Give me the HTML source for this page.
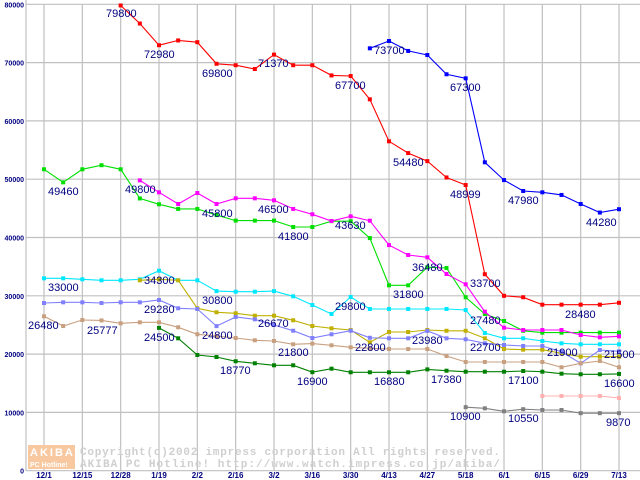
<!DOCTYPE html>
<html><head><meta charset="utf-8"><style>
html,body{margin:0;padding:0;background:#fff;}
svg{display:block;font-family:"Liberation Sans",Arial,sans-serif;}
</style></head><body>
<svg id="chart" width="640" height="480" viewBox="0 0 640 480" xmlns="http://www.w3.org/2000/svg">
<g id="grid"></g>
<g id="wm">
  <rect x="28" y="445" width="47" height="24" fill="#f8c8a0"/>
  <text x="30" y="456" font-size="11" font-weight="bold" fill="#fff" letter-spacing="2">AKIBA</text>
  <text x="30" y="467" font-size="7" font-weight="bold" fill="#fff">PC Hotline!</text>
  <text x="80" y="455" font-family="Liberation Mono,monospace" font-size="11" font-weight="bold" fill="#cfcfcf" textLength="420" lengthAdjust="spacing">Copyright(c)2002 impress corporation All rights reserved.</text>
  <text x="80" y="467" font-family="Liberation Mono,monospace" font-size="11" font-weight="bold" fill="#cfcfcf" textLength="420" lengthAdjust="spacing">AKIBA PC Hotline!  http://www.watch.impress.co.jp/akiba/</text>
</g>
<g id="series"></g>
<g id="labels"></g>
<g id="axes"></g>
</svg>
<script>
const categories = ["12/1","12/15","12/28","1/19","2/2","2/16","3/2","3/16","3/30","4/13","4/27","5/18","6/1","6/15","6/29","7/13"];
const yTicks = [0,10000,20000,30000,40000,50000,60000,70000,80000];
const N = null;
const redVals = [N,N,N,N,79800,76700,72980,73800,73500,69800,69550,68900,71370,69550,69550,67800,67700,63700,56500,54480,53100,50300,48999,33700,30000,29750,28480,28480,28480,28480,28800];
const blueVals = [N,N,N,N,N,N,N,N,N,N,N,N,N,N,N,N,N,72450,73700,72000,71300,68000,67300,52900,49850,47980,47750,47300,45750,44280,44850];
const greenVals = [51700,49460,51700,52400,51700,46700,45700,44900,44900,43850,42900,42900,42900,41800,41800,42800,42800,39900,31800,31800,34900,34770,29750,26880,25680,24000,23680,23680,23680,23680,23680];
const magentaVals = [N,N,N,N,N,49800,47750,45750,47630,45750,46720,46720,46380,44900,43980,42830,43630,42880,38700,37000,36600,33740,31970,27280,24530,24130,24130,24130,23280,22880,23050];
const cyanVals = [33000,33000,32830,32660,32660,32830,34300,32660,32660,30800,30700,30700,30800,29910,28420,26880,29800,27740,27740,27740,27740,27740,27560,23620,22710,22710,22250,21850,21680,21680,21680];
const oliveVals = [N,N,N,N,N,32660,32830,32660,27860,27170,27000,26590,26590,25800,24820,24420,24130,22020,23790,23790,24130,24000,24000,22710,20870,20760,20760,20130,19560,19560,19560];
const lavenderVals = [28760,28880,28880,28760,28880,28880,29280,27860,27740,24800,26370,25970,24990,24010,22760,23400,24010,22800,22710,22710,23980,22710,22540,21850,21560,21390,21390,20410,18420,20700,20480];
const tanVals = [26480,24820,25850,25777,25280,25450,25450,24600,23400,23100,22760,22370,22250,21680,21800,21510,21170,21000,20870,20870,20870,19670,18650,18650,18650,18650,18650,17740,18420,18820,17740];
const dkgreenVals = [N,N,N,N,N,N,24500,22710,19850,19500,18770,18420,18080,18080,16900,17500,16880,16880,16880,16880,17380,17150,16980,16980,16980,17100,16980,16640,16540,16540,16600];
const pinkVals = [N,N,N,N,N,N,N,N,N,N,N,N,N,N,N,N,N,N,N,N,N,N,N,N,N,N,12810,12810,12810,12810,12470];
const grayVals = [N,N,N,N,N,N,N,N,N,N,N,N,N,N,N,N,N,N,N,N,N,N,10900,10700,10190,10550,10410,10410,9870,9870,9870];
const labelTexts = ["79800","72980","69800","71370","49460","49800","45800","46500","41800","43630","67700","73700","67300","54480","48999","47980","44280","33000","34300","29280","30800","26480","25777","24500","24800","26670","18770","21800","16900","29800","22800","31800","36480","23980","16880","17380","33700","27480","22700","17100","28480","21900","21500","16600","10900","10550","9870"];
const labelPos = [[106,13],[144,54],[202,73],[258,63],[48,191],[125,189],[202,213],[258,209],[278,236],[335,225],[335,85],[374,50],[450,87],[393,162],[450,194],[508,200],[586,222],[48,287],[144,280],[144,309],[202,300],[28,325],[87,330],[144,337],[202,335],[258,323],[220,370],[278,352],[297,381],[335,306],[355,347],[393,294],[412,267],[412,340],[374,381],[431,379],[470,283],[470,320],[470,347],[508,380],[565,314],[547,352],[604,354],[604,383],[450,416],[508,418],[606,422]];

const NS="http://www.w3.org/2000/svg";
const X0=44, DX=19.167, Y0=470.7, KY=0.005830;
function xPos(i){return X0+i*DX;}
function yPos(v){return Y0-v*KY;}
function mk(tag,attrs,parent){const e=document.createElementNS(NS,tag);for(const k in attrs)e.setAttribute(k,attrs[k]);parent.appendChild(e);return e;}
const grid=document.getElementById('grid'), axes=document.getElementById('axes'), ser=document.getElementById('series'), lab=document.getElementById('labels');

yTicks.forEach(t=>{
  const y=yPos(t);
  const l=mk('line',{x1:26,x2:640,y1:y,y2:y,stroke:'#c0c0c0','stroke-width':1.2},grid);
  
  
  const tx=mk('text',{x:24,y:y+3,'text-anchor':'end','font-size':7,'font-weight':'bold',fill:'#000080'},axes);
  tx.textContent=String(t);
  
  
});
categories.forEach((c,k)=>{
  const x=xPos(k*2);
  const l=mk('line',{x1:x,x2:x,y1:4,y2:471,stroke:'#c0c0c0','stroke-width':1.2},grid);
  
  
  const tx=mk('text',{x:x,y:478,'text-anchor':'middle','font-size':8,'font-weight':'bold',fill:'#000080'},axes);
  tx.textContent=c;
  
  
});
const ax=mk('line',{x1:26,x2:26,y1:0,y2:471,stroke:'#c0c0c0','stroke-width':1.2},grid);



const seriesList=[[redVals,'#ff0000','red'],[blueVals,'#0000ff','blue'],[greenVals,'#00e000','green'],[magentaVals,'#ff00ff','magenta'],[cyanVals,'#00e8ff','cyan'],[oliveVals,'#c0b000','olive'],[lavenderVals,'#8080ff','lavender'],[tanVals,'#c8a080','tan'],[dkgreenVals,'#008000','dark-green'],[pinkVals,'#ffb0b0','pink'],[grayVals,'#808080','gray']];
seriesList.forEach(([vals,col,nm])=>{
  const g=mk('g',{},ser);
  
  
  let pts=[];
  vals.forEach((v,i)=>{if(v!==null)pts.push(xPos(i).toFixed(1)+','+yPos(v).toFixed(1));});
  const pl=mk('polyline',{points:pts.join(' '),fill:'none',stroke:col,'stroke-width':1.1},g);
  
  
  vals.forEach((v,i)=>{
    if(v===null)return;
    const r=mk('rect',{x:xPos(i)-2,y:yPos(v)-2,width:4,height:4,fill:col},g);
    
    
  });
});
labelTexts.forEach((t,i)=>{
  const p=labelPos[i];
  const tx=mk('text',{x:p[0],y:p[1]+4,'font-size':11,fill:'#000080'},lab);
  tx.textContent=t;
  
  
});
</script>
</body></html>
